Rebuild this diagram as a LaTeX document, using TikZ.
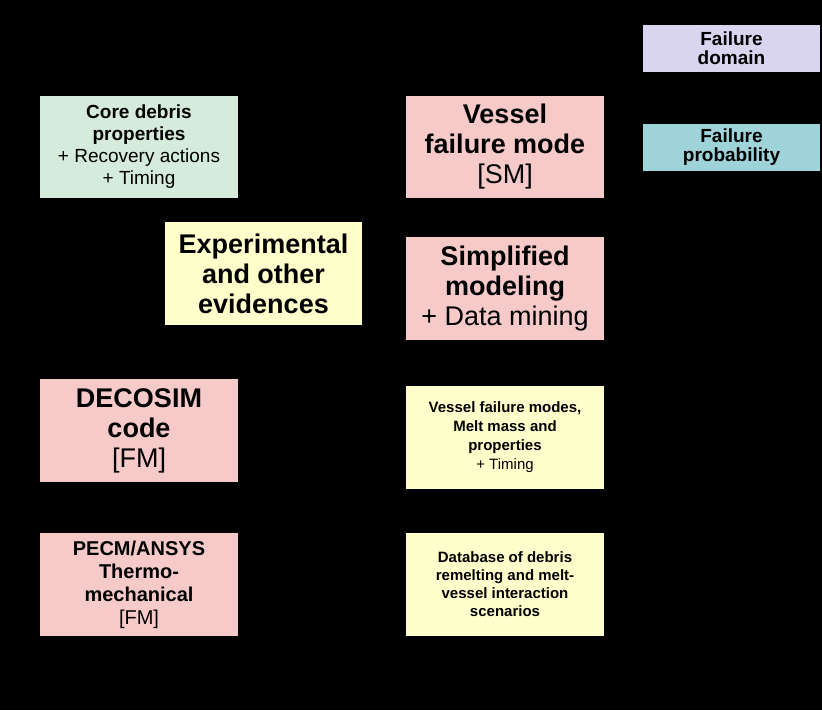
\documentclass[tikz,border=0pt]{standalone}
\usepackage{fontspec}
\setmainfont{Liberation Sans}
\definecolor{lav}{HTML}{D9D5EF}
\definecolor{teal}{HTML}{9DD3D9}
\definecolor{mint}{HTML}{D5EBDC}
\definecolor{pnk}{HTML}{F7CACA}
\definecolor{ylw}{HTML}{FFFFCC}
\begin{document}
\begin{tikzpicture}[x=1pt,y=-1pt,
 box/.style={inner sep=0pt,align=center,text=black}]
\fill[black] (0,0) rectangle (822,710);
\useasboundingbox (0,0) rectangle (822,710);
\newcommand{\bx}[6]{\fill[#6] (#2,#3) rectangle (#4,#5); \node[box] (#1) at ({(#2+#4)/2},{(#3+#5)/2}) {};}
\bx{fd}{643}{25}{820}{72}{lav}
\node[box,font=\fontsize{19}{19}\selectfont\bfseries] at (fd) {Failure\\domain};
\bx{fp}{643}{124}{820}{171}{teal}
\node[box,font=\fontsize{19}{19}\selectfont\bfseries] at (fp) {Failure\\probability};
\bx{cd}{40}{96}{238}{198}{mint}
\node[box,font=\fontsize{19}{22}\selectfont] at (cd) {\textbf{Core debris}\\\textbf{properties}\\+ Recovery actions\\+ Timing};
\bx{vf}{406}{96}{604}{198}{pnk}
\node[box,font=\fontsize{27}{30}\selectfont] at (vf) {\textbf{Vessel}\\\textbf{failure mode}\\{[}SM{]}};
\bx{ex}{165}{222}{362}{325}{ylw}
\node[box,font=\fontsize{27}{30}\selectfont\bfseries] at (ex) {Experimental\\and other\\evidences};
\bx{sm}{406}{237}{604}{340}{pnk}
\node[box,font=\fontsize{27}{30}\selectfont] at (sm) {\textbf{Simplified}\\\textbf{modeling}\\+ Data mining};
\bx{de}{40}{379}{238}{482}{pnk}
\node[box,font=\fontsize{27}{30}\selectfont] at (de) {\textbf{DECOSIM}\\\textbf{code}\\{[}FM{]}};
\bx{vm}{406}{386}{604}{489}{ylw}
\node[box,font=\fontsize{15}{19}\selectfont] at (vm) {\textbf{Vessel failure modes,}\\\textbf{Melt mass and}\\\textbf{properties}\\+ Timing};
\bx{pe}{40}{533}{238}{636}{pnk}
\node[box,font=\fontsize{20}{23}\selectfont] at (pe) {\textbf{PECM/ANSYS}\\\textbf{Thermo-}\\\textbf{mechanical}\\{[}FM{]}};
\bx{db}{406}{533}{604}{636}{ylw}
\node[box,font=\fontsize{15}{18}\selectfont\bfseries] at (db) {Database of debris\\remelting and melt-\\vessel interaction\\scenarios};
\end{tikzpicture}
\end{document}
